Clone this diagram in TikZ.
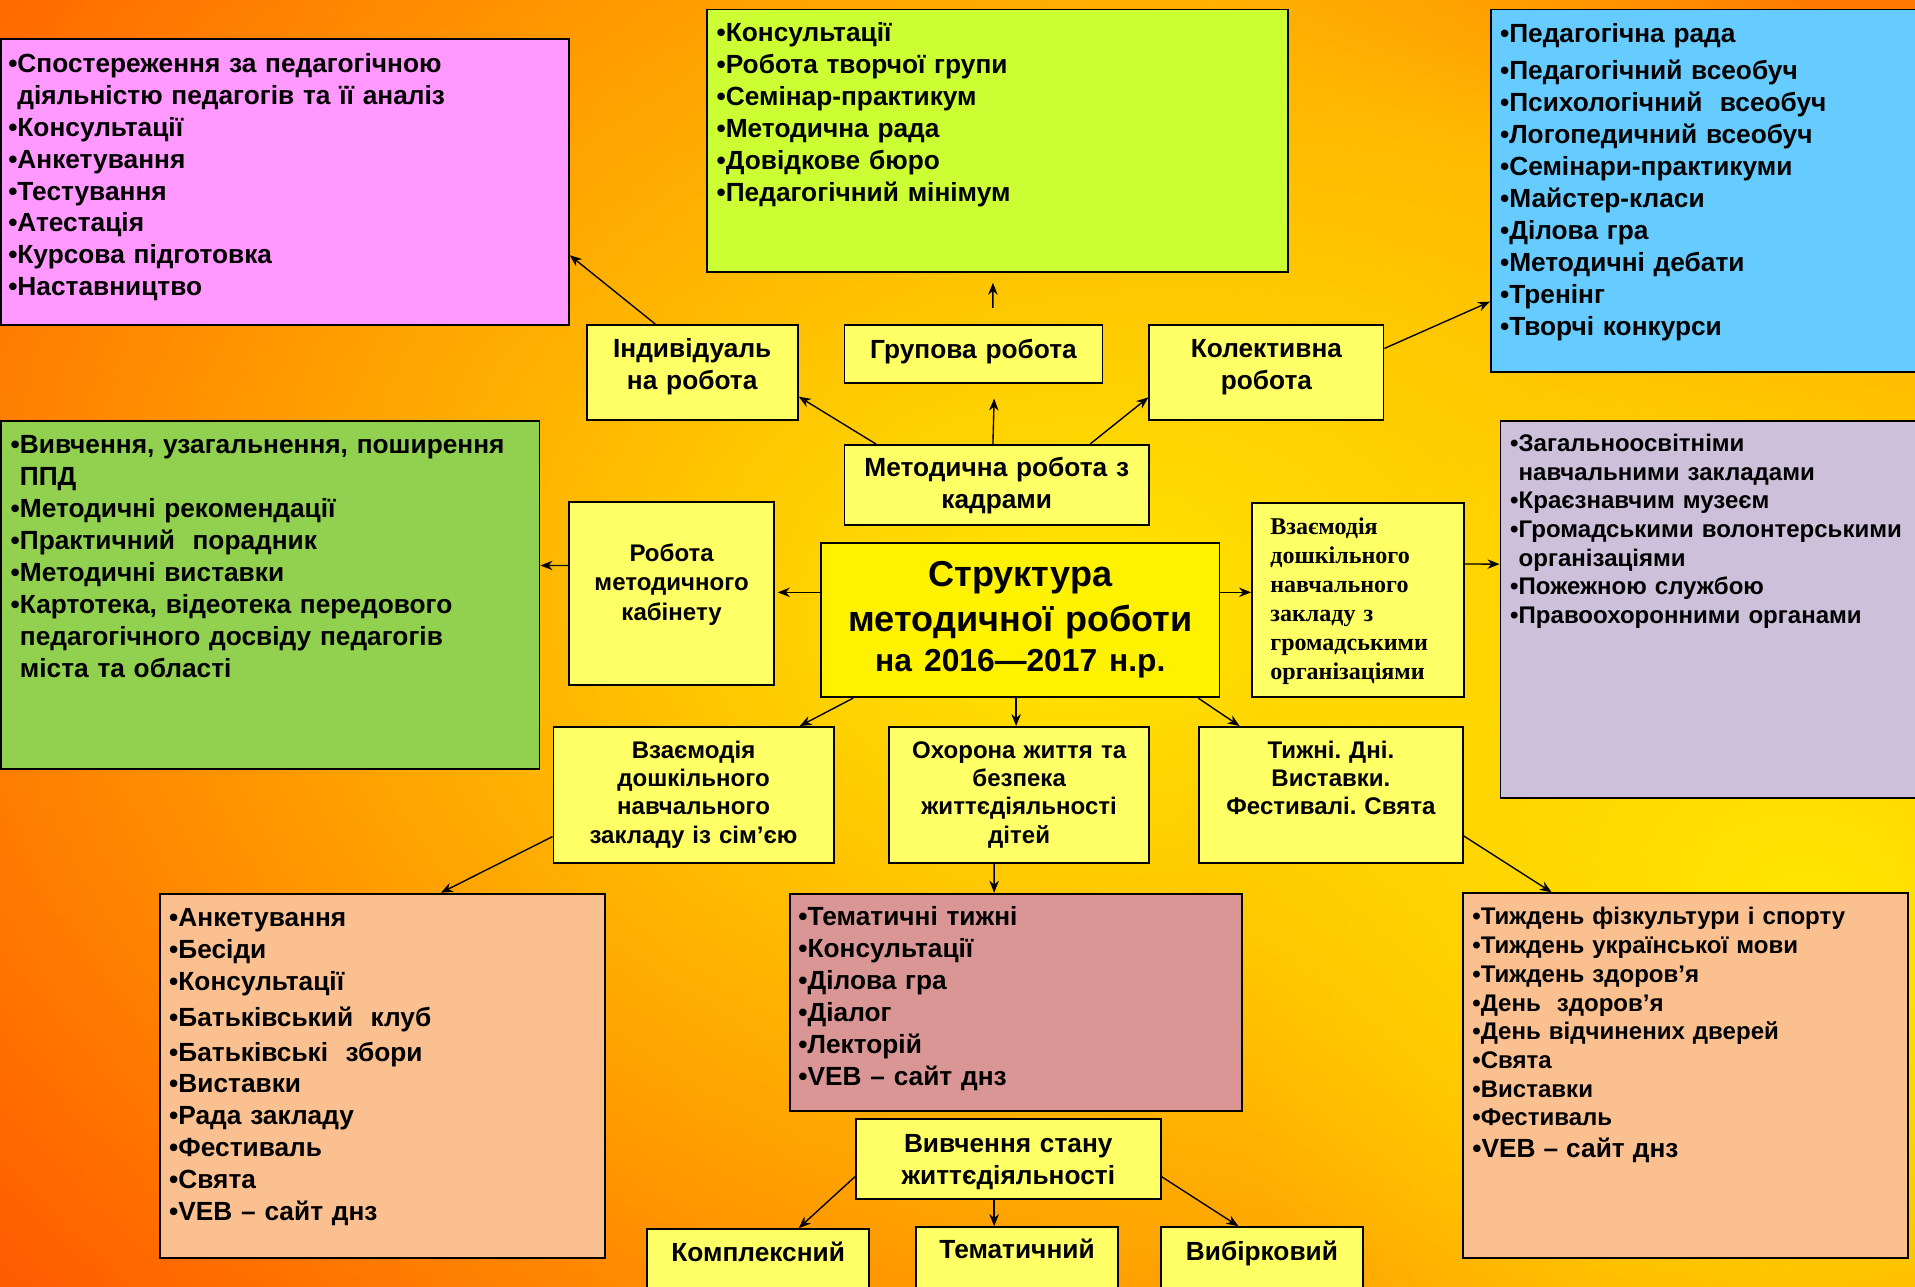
\documentclass[tikz,border=0pt]{standalone}
\usepackage{fontspec}
\setmainfont{Liberation Sans}
\newfontfamily\serifbox{Liberation Serif}
\usetikzlibrary{arrows.meta,calc,fadings}
\frenchspacing

\newlength\pxu
\setlength\pxu{0.025cm}

\definecolor{bgred}{RGB}{255,62,0}
\definecolor{bgorange}{RGB}{255,145,0}
\definecolor{bgyellow}{RGB}{255,232,0}
\definecolor{cardfill}{RGB}{255,255,102}
\definecolor{obscol}{RGB}{255,153,255}
\definecolor{grpcol}{RGB}{204,255,51}
\definecolor{colcol}{RGB}{102,204,255}
\definecolor{cabcol}{RGB}{146,208,80}
\definecolor{orgcol}{RGB}{204,192,218}
\definecolor{peach}{RGB}{250,192,144}
\definecolor{rosecol}{RGB}{217,150,148}

\newcommand\listfont{\bfseries\fontsize{15.3}{18.6}\selectfont}
\newcommand\smallfont{\bfseries\fontsize{14}{16.7}\selectfont}

\tikzfading[name=glow, inner color=transparent!0, outer color=transparent!100]

\begin{document}
\begin{tikzpicture}[x=0.025cm, y=-0.025cm,
  panel/.style={draw=black, line width=1.1pt, anchor=north west, align=left, inner ysep=0pt},
  card/.style={panel, fill=cardfill, align=center, inner xsep=0pt, font=\listfont},
  arr/.style={draw=black, line width=0.8pt, -{Stealth[length=7pt, width=5.5pt]}}]

% background
\useasboundingbox (0,0) rectangle (1568,1053);
\shade[left color=bgred!80!bgorange, right color=bgorange] (0,0) rectangle (1568,1053);
\fill[bgred, path fading=glow] (0,950) ellipse [x radius=1300, y radius=1300];
\fill[bgred, path fading=glow] (1500,0) ellipse [x radius=500, y radius=140];
\fill[bgyellow, path fading=glow] (880,500) ellipse [x radius=1400, y radius=1000];
\fill[bgyellow, path fading=glow] (1480,760) ellipse [x radius=500, y radius=500];

% lists
\node[panel, fill=obscol, font=\listfont, inner xsep=6\pxu, text width=453\pxu,
  text height=27.4\pxu, text depth=206.6\pxu] (obs) at (0,31)
  {•Спостереження за педагогічною\\\phantom{•}діяльністю педагогів та її аналіз\\•Консультації\\•Анкетування\\•Тестування\\•Атестація\\•Курсова підготовка\\•Наставництво};
\node[panel, fill=grpcol, font=\listfont, inner xsep=8\pxu, text width=460\pxu,
  text height=26.5\pxu, text depth=188.5\pxu] (grplist) at (578,7)
  {•Консультації\\•Робота творчої групи\\•Семінар-практикум\\•Методична рада\\•Довідкове бюро\\•Педагогічний мінімум};
\node[panel, fill=colcol, font=\listfont, inner xsep=7.5\pxu, text width=345\pxu,
  text height=26.8\pxu, text depth=270\pxu] (collist) at (1220,7)
  {•Педагогічна рада\\[3.3pt]•Педагогічний всеобуч\\•Психологічний~ всеобуч\\•Логопедичний всеобуч\\•Семінари-практикуми\\•Майстер-класи\\•Ділова гра\\•Методичні дебати\\•Тренінг\\•Творчі конкурси};
\node[panel, fill=cabcol, font=\listfont, inner xsep=8\pxu, text width=425\pxu,
  text height=26.5\pxu, text depth=258.5\pxu] (cablist) at (0,344)
  {•Вивчення, узагальнення, поширення\\\phantom{•}ППД\\•Методичні рекомендації\\•Практичний~ порадник\\•Методичні виставки\\•Картотека, відеотека передового\\\phantom{•}педагогічного досвіду педагогів\\\phantom{•}міста та області};
\node[panel, fill=orgcol, font=\smallfont, inner xsep=8\pxu, text width=334\pxu,
  text height=25\pxu, text depth=284\pxu] (orglist) at (1227.8,343.9)
  {•Загальноосвітніми\\\phantom{•}навчальними закладами\\•Краєзнавчим музеєм\\•Громадськими волонтерськими\\\phantom{•}організаціями\\•Пожежною службою\\•Правоохоронними органами};
\node[panel, fill=peach, font=\listfont, inner xsep=7.5\pxu, text width=349.3\pxu,
  text height=26.6\pxu, text depth=271.4\pxu] (famlist) at (130.3,731)
  {•Анкетування\\•Бесіди\\•Консультації\\[2.7pt]•Батьківський~ клуб\\[1.4pt]•Батьківські~ збори\\•Виставки\\•Рада закладу\\•Фестиваль\\•Свята\\•VEB – сайт днз};
\node[panel, fill=rosecol, font=\listfont, inner xsep=7\pxu, text width=356\pxu,
  text height=26.1\pxu, text depth=151.9\pxu] (safelist) at (646,731)
  {•Тематичні тижні\\•Консультації\\•Ділова гра\\•Діалог\\•Лекторій\\•VEB – сайт днз};
\node[panel, fill=peach, font=\smallfont, inner xsep=8\pxu, text width=349\pxu,
  text height=26\pxu, text depth=272.4\pxu] (weeklist) at (1196.8,730.6)
  {•Тиждень фізкультури і спорту\\•Тиждень української мови\\•Тиждень здоров’я\\•День~ здоров’я\\•День відчинених дверей\\•Свята\\•Виставки\\•Фестиваль\\[1.9pt]{\listfont •VEB – сайт днз}};

% cards
\node[card, text width=173\pxu, text height=26.7\pxu, text depth=51.3\pxu] (indiv) at (479.5,265.3) {Індивідуаль\\на робота};
\node[card, text width=211.2\pxu, text height=27.2\pxu, text depth=20\pxu] (grup) at (690.7,265.3) {Групова робота};
\node[card, text width=191.7\pxu, text height=26.7\pxu, text depth=51.3\pxu] (kolekt) at (940.3,265.3) {Колективна\\робота};
\node[card, text width=249.3\pxu, text height=25.9\pxu, text depth=39.5\pxu] (kadry) at (690.7,363.6) {Методична робота з\\кадрами};
\node[card, font=\bfseries\fontsize{14}{17.1}\selectfont, text width=168.3\pxu,
  text height=48.5\pxu, text depth=101\pxu] (cab) at (465,410.5) {Робота\\методичного\\кабінету};
\node[card, fill=yellow, font=\bfseries\fontsize{21}{26.2}\selectfont, text width=326\pxu,
  text height=36\pxu, text depth=90.5\pxu] (struct) at (671.7,443.5)
  {Структура\\методичної роботи\\[-2.9pt]{\fontsize{18.5}{22}\selectfont на 2016—2017 н.р.}};
\node[card, align=left, inner xsep=15\pxu, font=\serifbox\bfseries\fontsize{14}{16.85}\selectfont,
  text width=143.4\pxu, text height=26\pxu, text depth=133.1\pxu] (soc) at (1024.4,410.8)
  {Взаємодія\\дошкільного\\навчального\\закладу з\\громадськими\\організаціями};
\node[card, font=\bfseries\fontsize{14}{16.5}\selectfont, text width=229.4\pxu,
  text height=25.6\pxu, text depth=85.4\pxu] (fam) at (452.4,594.5)
  {Взаємодія\\дошкільного\\навчального\\закладу із сім’єю};
\node[card, font=\bfseries\fontsize{14}{16.5}\selectfont, text width=212.6\pxu,
  text height=25.6\pxu, text depth=85.4\pxu] (safety) at (727.4,594.5)
  {Охорона життя та\\безпека\\життєдіяльності\\дітей};
\node[card, font=\bfseries\fontsize{14}{16.5}\selectfont, text width=216\pxu,
  text height=25.6\pxu, text depth=85.4\pxu] (weeks) at (981,594.5)
  {Тижні. Дні.\\Виставки.\\Фестивалі. Свята};
\node[card, text width=249.6\pxu, text height=27.5\pxu, text depth=38\pxu] (study) at (700,915.2) {Вивчення стану\\життєдіяльності};
\node[card, text width=182\pxu, text height=26.6\pxu, text depth=33.4\pxu] (complex) at (529,1005.6) {Комплексний};
\node[card, text width=166\pxu, text height=26\pxu, text depth=34\pxu] (themat) at (749,1004) {Тематичний};
\node[card, text width=165\pxu, text height=27.4\pxu, text depth=32.6\pxu] (select) at (950,1004) {Вибірковий};

% connectors
\draw[arr] ($(indiv.north west)+(57,0)$) -- ($(obs.north east)+(0,178)$);
\draw[arr] ($(kadry.north west)+(26.6,0)$) -- ($(indiv.north east)+(0,59.5)$);
\draw[arr] ($(kadry.north west)+(122.3,0)$) -- ($(grup.south west)+(123.3,12.3)$);
\draw[arr] ($(grup.north west)+(122.3,-13.3)$) -- ($(grplist.south west)+(235,8)$);
\draw[arr] ($(kadry.north east)+(-49,0)$) -- ($(kolekt.north west)+(0,60)$);
\draw[arr] ($(kolekt.north east)+(0,20)$) -- ($(collist.north west)+(0,240)$);
\draw[arr] ($(struct.north west)+(0,41.5)$) -- ($(cab.north east)+(2,74.5)$);
\draw[arr] ($(cab.north west)+(0,52.5)$) -- ($(cablist.north east)+(0,119)$);
\draw[arr] ($(struct.north east)+(0,41.5)$) -- ($(soc.north west)+(0,74.2)$);
\draw[arr] ($(soc.north east)+(0,51)$) -- ($(orglist.north west)+(0,118)$);
\draw[arr] ($(struct.south west)+(27,0)$) -- ($(fam.north west)+(202.4,0)$);
\draw[arr] ($(struct.south west)+(160.3,0)$) -- ($(safety.north west)+(104.6,0)$);
\draw[arr] ($(struct.south west)+(309.3,0)$) -- ($(weeks.north west)+(34,0)$);
\draw[arr] ($(fam.north west)+(0,90.5)$) -- ($(famlist.north west)+(230.7,0)$);
\draw[arr] ($(safety.south west)+(86.6,0)$) -- ($(safelist.north west)+(168,0)$);
\draw[arr] ($(weeks.north east)+(0,90)$) -- ($(weeklist.north west)+(73.7,0)$);
\draw[arr] ($(study.north west)+(0,48.3)$) -- ($(complex.north west)+(125,0)$);
\draw[arr] ($(study.south west)+(114,0)$) -- ($(themat.north west)+(65,0)$);
\draw[arr] ($(study.north east)+(0,48.3)$) -- ($(select.north west)+(64,0)$);
\end{tikzpicture}
\end{document}
